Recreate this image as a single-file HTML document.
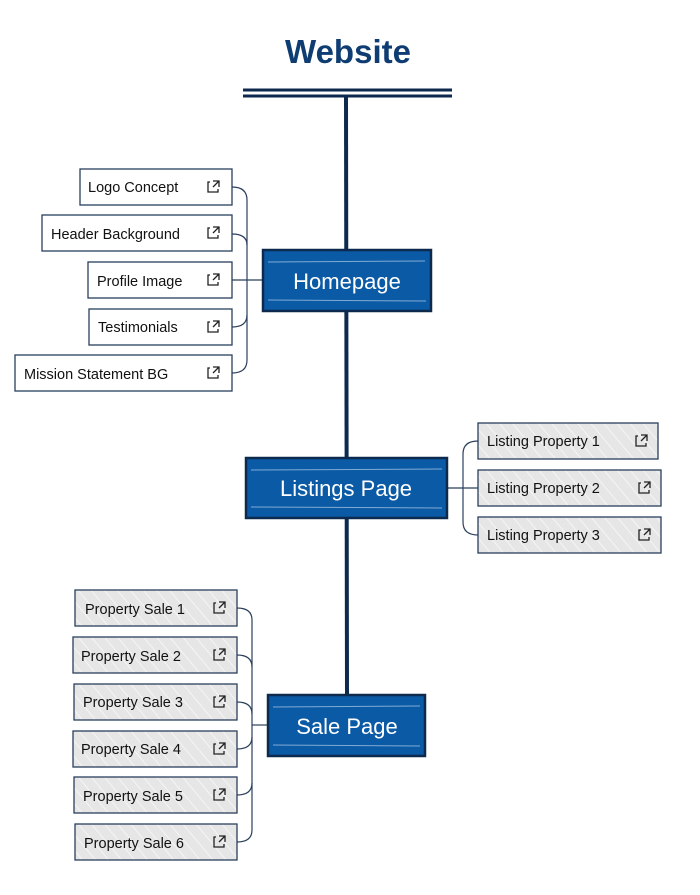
<!DOCTYPE html>
<html><head><meta charset="utf-8"><style>
body{margin:0;background:#fff;width:700px;height:890px;overflow:hidden}
text{font-family:"Liberation Sans",sans-serif}
</style></head><body>
<svg width="700" height="890" viewBox="0 0 700 890" xmlns="http://www.w3.org/2000/svg">
<defs>
<pattern id="hatch" width="10" height="10" patternUnits="userSpaceOnUse" patternTransform="rotate(-40)">
<rect width="10" height="10" fill="#e6e6e6"/><line x1="0" y1="0" x2="0" y2="10" stroke="#fafafa" stroke-width="1.5"/>
</pattern>
<g id="ext"><path d="M-4 -5 H-6 V5 H4 V2" fill="none" stroke="#222" stroke-width="1.3"/><path d="M-1 -6 H5 V0 M5 -6 L-1 0" fill="none" stroke="#222" stroke-width="1.3"/></g>
</defs>
<text x="348" y="63" text-anchor="middle" font-size="33" font-weight="bold" fill="#0f3d73">Website</text>
<line x1="243" y1="90" x2="452" y2="90" stroke="#0d2a4e" stroke-width="3"/>
<line x1="243" y1="96" x2="452" y2="96" stroke="#0d2a4e" stroke-width="3"/>
<line x1="346" y1="97" x2="347" y2="697" stroke="#0d2a4e" stroke-width="4"/>

<g fill="none" stroke="#2a3f5c" stroke-width="1.2">
<path d="M232 187 Q247 187 247 200 V360 Q247 373 232 373"/>
<path d="M232 234 Q247 234 247 245"/><path d="M232 327 Q247 327 247 315"/>
<path d="M232 280 H263"/>
<path d="M478 441 Q463 441 463 454 V522 Q463 535 478 535"/>
<path d="M447 488 H478"/>
<path d="M237 608 Q252 608 252 620 V830 Q252 842 237 842"/>
<path d="M237 655 Q252 655 252 667"/><path d="M237 702 Q252 702 252 714"/>
<path d="M237 749 Q252 749 252 737"/><path d="M237 795 Q252 795 252 783"/>
<path d="M252 725 H268"/>
</g>

<g stroke="#0d2a4e" stroke-width="2.5" fill="#0b5aa5">
<rect x="263" y="250" width="168" height="61"/>
<rect x="246" y="458" width="201" height="60"/>
<rect x="268" y="695" width="157" height="61"/>
</g>
<g stroke="#cfe0f5" stroke-width="1" opacity="0.6">
<line x1="268" y1="262" x2="425" y2="261"/><line x1="268" y1="300" x2="426" y2="301"/>
<line x1="251" y1="470" x2="442" y2="469"/><line x1="251" y1="507" x2="442" y2="508"/>
<line x1="273" y1="707" x2="420" y2="706"/><line x1="273" y1="745" x2="420" y2="746"/>
</g>
<g fill="#fff" font-size="22" text-anchor="middle">
<text x="347" y="289">Homepage</text>
<text x="346" y="496">Listings Page</text>
<text x="347" y="734">Sale Page</text>
</g>

<g stroke="#2a3f5c" stroke-width="1.3" fill="#fff">
<rect x="80" y="169" width="152" height="36"/>
<rect x="42" y="215" width="190" height="36"/>
<rect x="88" y="262" width="144" height="36"/>
<rect x="89" y="309" width="143" height="36"/>
<rect x="15" y="355" width="217" height="36"/>
</g>
<g stroke="#2a3f5c" stroke-width="1.3" fill="url(#hatch)">
<rect x="478" y="423" width="180" height="36"/>
<rect x="478" y="470" width="183" height="36"/>
<rect x="478" y="517" width="183" height="36"/>
<rect x="75" y="590" width="162" height="36"/>
<rect x="73" y="637" width="164" height="36"/>
<rect x="74" y="684" width="163" height="36"/>
<rect x="73" y="731" width="164" height="36"/>
<rect x="74" y="777" width="163" height="36"/>
<rect x="75" y="824" width="162" height="36"/>
</g>
<g font-size="14.5" fill="#111">
<text x="88" y="192">Logo Concept</text>
<text x="51" y="239">Header Background</text>
<text x="97" y="286">Profile Image</text>
<text x="98" y="332">Testimonials</text>
<text x="24" y="379">Mission Statement BG</text>
<text x="487" y="446">Listing Property 1</text>
<text x="487" y="493">Listing Property 2</text>
<text x="487" y="540">Listing Property 3</text>
<text x="85" y="614">Property Sale 1</text>
<text x="81" y="661">Property Sale 2</text>
<text x="83" y="707">Property Sale 3</text>
<text x="81" y="754">Property Sale 4</text>
<text x="83" y="801">Property Sale 5</text>
<text x="84" y="848">Property Sale 6</text>
</g>
<use href="#ext" x="214" y="187"/><use href="#ext" x="214" y="233"/><use href="#ext" x="214" y="280"/>
<use href="#ext" x="214" y="327"/><use href="#ext" x="214" y="373"/>
<use href="#ext" x="642" y="441"/><use href="#ext" x="645" y="488"/><use href="#ext" x="645" y="535"/>
<use href="#ext" x="220" y="608"/><use href="#ext" x="220" y="655"/><use href="#ext" x="220" y="702"/>
<use href="#ext" x="220" y="749"/><use href="#ext" x="220" y="795"/><use href="#ext" x="220" y="842"/>
</svg>
</body></html>
